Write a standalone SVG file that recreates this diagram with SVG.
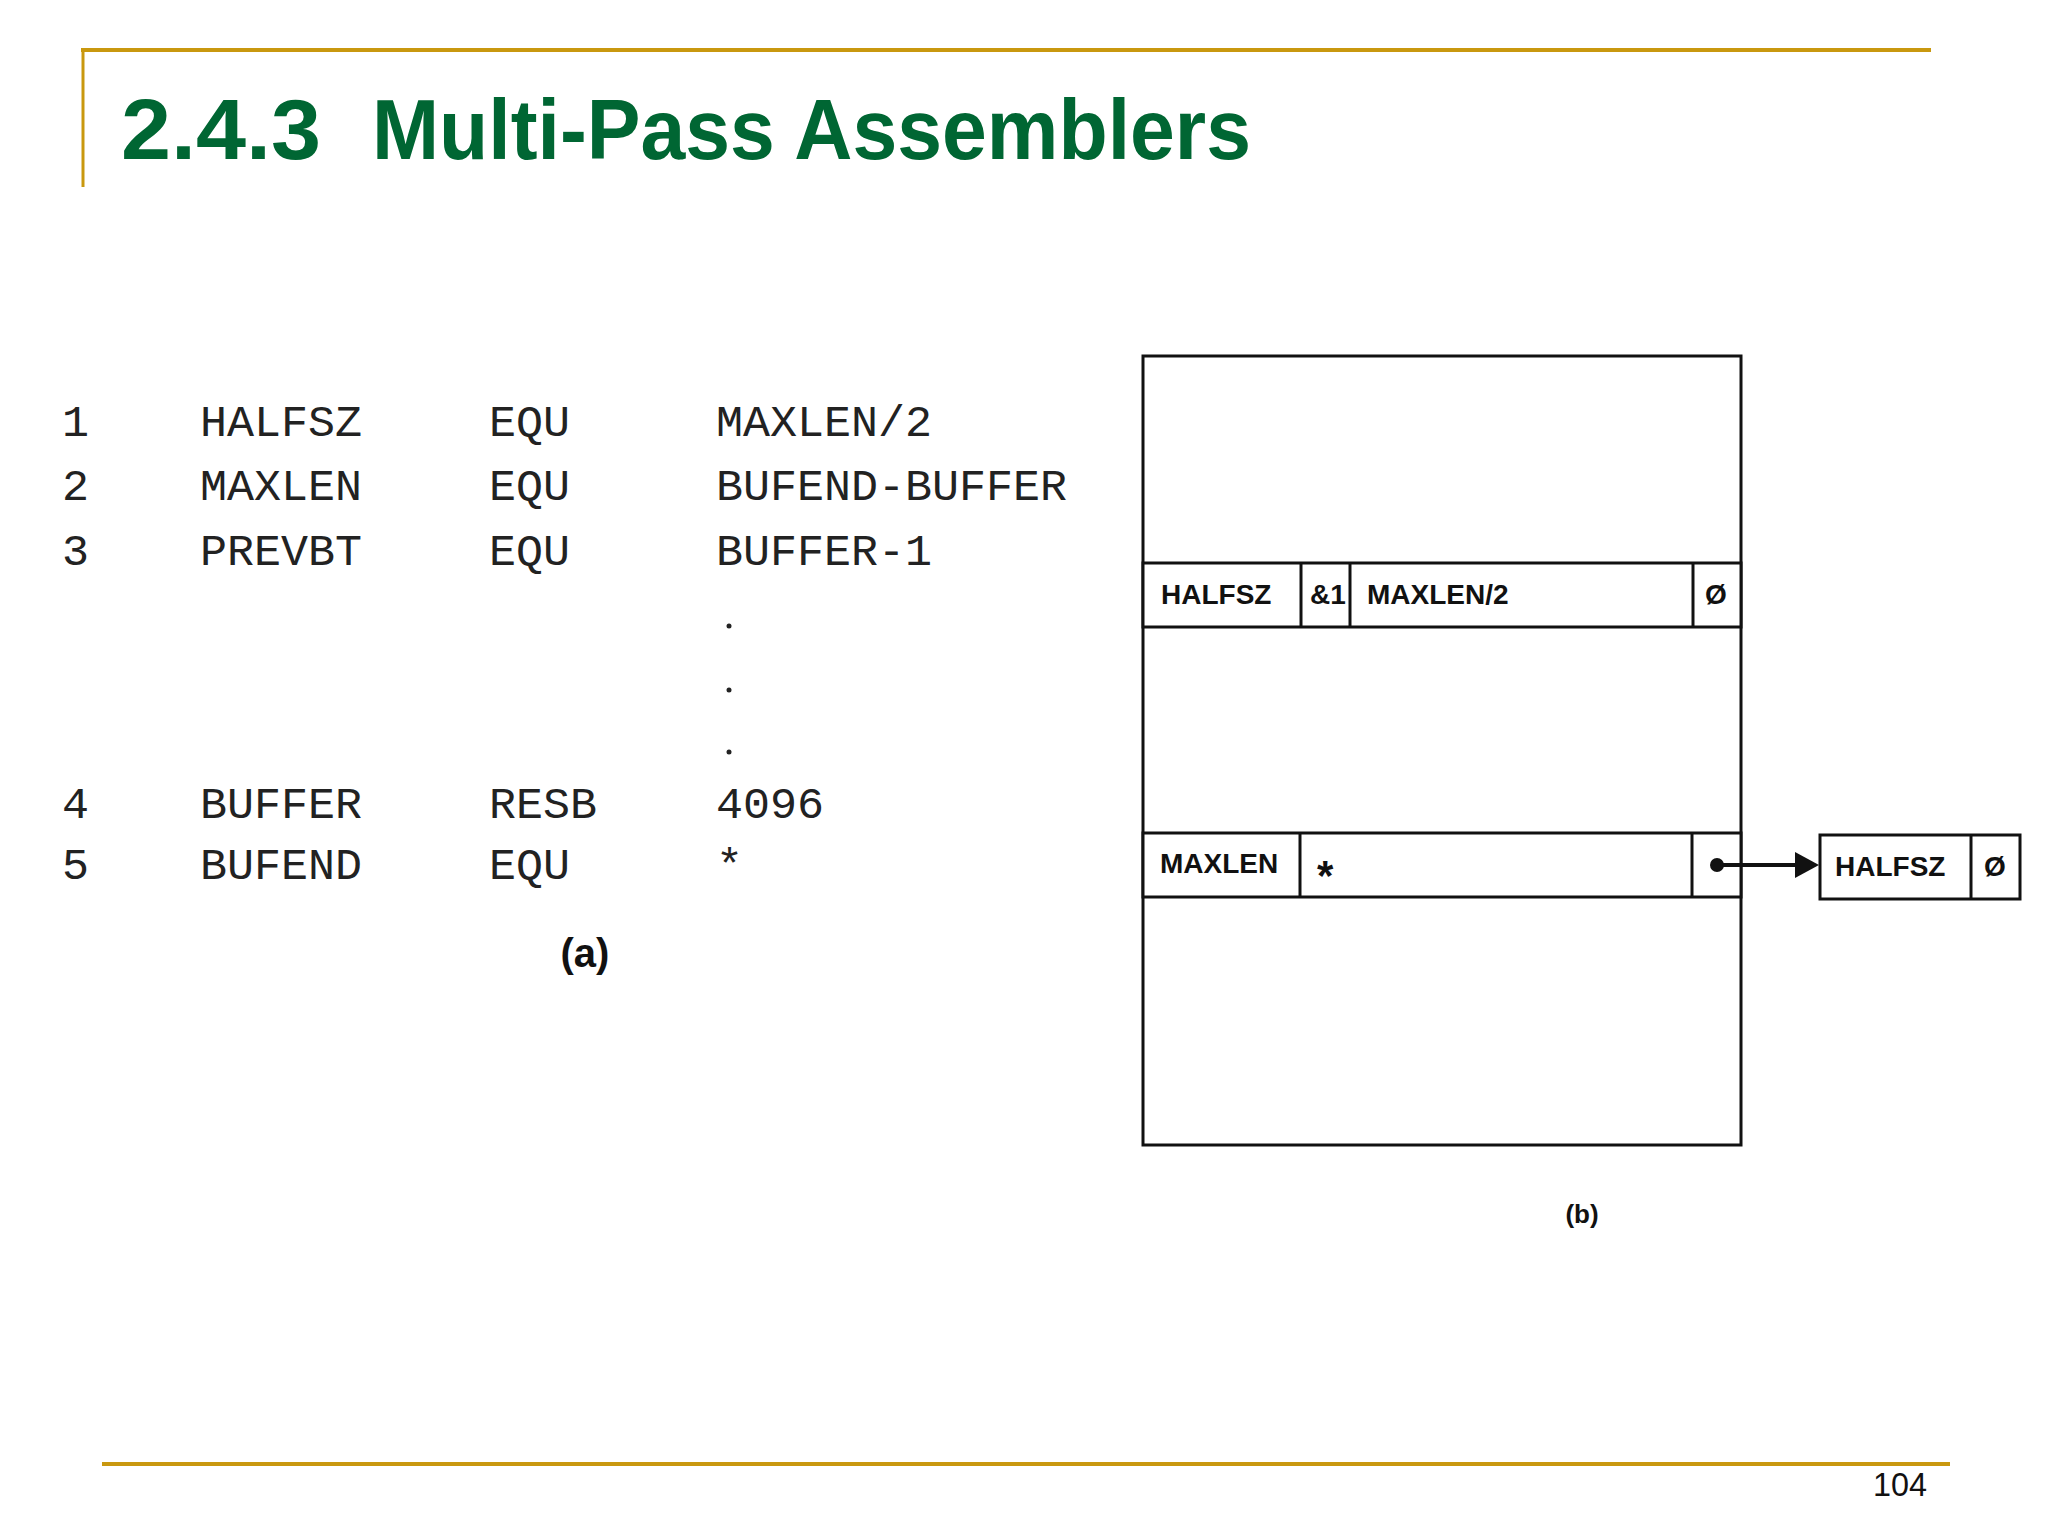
<svg xmlns="http://www.w3.org/2000/svg" width="2048" height="1538" viewBox="0 0 2048 1538">
<defs>
<style>
.gold{stroke:#C9980F;fill:none}
.title{font-family:"Liberation Sans",Arial,sans-serif;font-weight:bold;font-size:86px;fill:#006633}
.code{font-family:"Liberation Mono","Courier New",monospace;font-size:45px;fill:#222}
.cap{font-family:"Liberation Sans",Arial,sans-serif;font-weight:bold;fill:#111}
.box{fill:#fff;stroke:#111;stroke-width:3}
.ln{stroke:#111;stroke-width:3;fill:none}
.lbl{font-family:"Liberation Sans",Arial,sans-serif;font-weight:bold;font-size:28px;fill:#111}
.page{font-family:"Liberation Sans",Arial,sans-serif;font-size:34px;fill:#111}
</style>
</defs>
<rect width="2048" height="1538" fill="#fff"/>
<g id="frame">
<line class="gold" x1="81" y1="50" x2="1931" y2="50" stroke-width="4"/>
<line class="gold" x1="83" y1="50" x2="83" y2="187" stroke-width="3"/>
<line class="gold" x1="102" y1="1464" x2="1950" y2="1464" stroke-width="4"/>
<text class="title" x="121" y="159" textLength="200" lengthAdjust="spacingAndGlyphs">2.4.3</text>
<text class="title" x="372" y="159" textLength="879" lengthAdjust="spacingAndGlyphs">Multi-Pass Assemblers</text>
<text class="page" x="1927" y="1496" text-anchor="end" textLength="54" lengthAdjust="spacingAndGlyphs">104</text>
</g>
<g id="listing">
<text class="code" x="62" y="436">1</text>
<text class="code" x="200" y="436">HALFSZ</text>
<text class="code" x="489" y="436">EQU</text>
<text class="code" x="716" y="436">MAXLEN/2</text>
<text class="code" x="62" y="500">2</text>
<text class="code" x="200" y="500">MAXLEN</text>
<text class="code" x="489" y="500">EQU</text>
<text class="code" x="716" y="500">BUFEND-BUFFER</text>
<text class="code" x="62" y="565">3</text>
<text class="code" x="200" y="565">PREVBT</text>
<text class="code" x="489" y="565">EQU</text>
<text class="code" x="716" y="565">BUFFER-1</text>
<circle cx="729" cy="626" r="2.5" fill="#222"/>
<circle cx="729" cy="690" r="2.5" fill="#222"/>
<circle cx="729" cy="752" r="2.5" fill="#222"/>
<text class="code" x="62" y="818">4</text>
<text class="code" x="200" y="818">BUFFER</text>
<text class="code" x="489" y="818">RESB</text>
<text class="code" x="716" y="818">4096</text>
<text class="code" x="62" y="879">5</text>
<text class="code" x="200" y="879">BUFEND</text>
<text class="code" x="489" y="879">EQU</text>
<text class="code" x="716" y="879">*</text>
<text class="cap" x="585" y="967" font-size="40" text-anchor="middle">(a)</text>
</g>
<g id="table">
<rect class="box" x="1143" y="356" width="598" height="789"/>
</g>
<g id="entry-halfsz">
<rect class="box" x="1143" y="563" width="598" height="64"/>
<line class="ln" x1="1301" y1="563" x2="1301" y2="627"/>
<line class="ln" x1="1350" y1="563" x2="1350" y2="627"/>
<line class="ln" x1="1693" y1="563" x2="1693" y2="627"/>
<text class="lbl" x="1161" y="604">HALFSZ</text>
<text class="lbl" x="1310" y="604">&amp;1</text>
<text class="lbl" x="1367" y="604">MAXLEN/2</text>
<text class="lbl" x="1716" y="604" text-anchor="middle">Ø</text>
</g>
<g id="entry-maxlen">
<rect class="box" x="1143" y="833" width="598" height="64"/>
<line class="ln" x1="1300" y1="833" x2="1300" y2="897"/>
<line class="ln" x1="1692" y1="833" x2="1692" y2="897"/>
<text class="lbl" x="1160" y="873">MAXLEN</text>
<text class="lbl" x="1317" y="890" style="font-size:42px">*</text>
</g>
<g id="ref-halfsz">
<rect class="box" x="1820" y="835" width="200" height="64"/>
<line class="ln" x1="1971" y1="835" x2="1971" y2="899"/>
<text class="lbl" x="1835" y="876">HALFSZ</text>
<text class="lbl" x="1995" y="876" text-anchor="middle">Ø</text>
</g>
<g id="connectors">
<circle cx="1717" cy="865" r="7" fill="#111"/>
<line x1="1717" y1="865" x2="1797" y2="865" stroke="#111" stroke-width="4"/>
<polygon points="1795,852 1819,865 1795,878" fill="#111"/>
</g>
<text class="cap" x="1582" y="1223" font-size="26" text-anchor="middle">(b)</text>
</svg>
